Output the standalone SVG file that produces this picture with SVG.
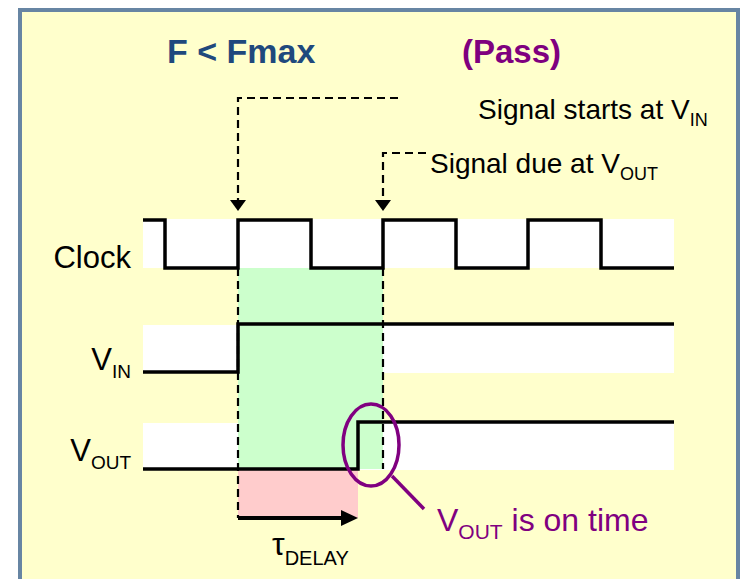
<svg xmlns="http://www.w3.org/2000/svg" width="742" height="579" viewBox="0 0 742 579">
  <style>
    .lbl { font-family: "Liberation Sans", Arial, sans-serif; fill: #000; }
    .sig { fill: none; stroke: #000; stroke-width: 3.5; stroke-linejoin: miter; }
    .dash { fill: none; stroke: #000; stroke-width: 2.2; stroke-dasharray: 8 5; }
    .band { fill: #FFFFFF; }
    .purple { fill: #800080; }
  </style>
  <defs>
    <marker id="down" viewBox="0 0 11 16" refX="11" refY="8" markerWidth="11" markerHeight="16" markerUnits="userSpaceOnUse" orient="auto">
      <polygon points="0,0 11,8 0,16" fill="#000"/>
    </marker>
  </defs>

  <!-- background / frame -->
  <rect x="0" y="0" width="742" height="579" fill="#FFFFFF"/>
  <rect x="20" y="10" width="718" height="600" fill="#FFFFCC" stroke="#6785A3" stroke-width="4"/>

  <!-- title -->
  <g id="title">
    <text x="167" y="63" font-family="Liberation Sans, Arial, sans-serif" font-weight="bold" font-size="34" fill="#1F497D">F &lt; Fmax</text>
    <text x="462" y="63" font-family="Liberation Sans, Arial, sans-serif" font-weight="bold" font-size="33" fill="#7F007F">(Pass)</text>
  </g>

  <!-- white signal bands -->
  <g id="bands">
    <rect class="band" x="143" y="219" width="531" height="49"/>
    <rect class="band" x="143" y="325" width="531" height="48"/>
    <rect class="band" x="143" y="423" width="531" height="47"/>
  </g>

  <!-- highlight regions -->
  <g id="regions">
    <rect x="238" y="268" width="145" height="201" fill="#CCFFCC"/>
    <rect x="238" y="470" width="120" height="48" fill="#FFCCCC"/>
  </g>

  <!-- signal labels -->
  <g id="labels">
    <text class="lbl" x="131" y="268" font-size="31" text-anchor="end">Clock</text>
    <text class="lbl" x="131" y="370" font-size="31" text-anchor="end">V<tspan font-size="19" dy="8">IN</tspan></text>
    <text class="lbl" x="131" y="461" font-size="31" text-anchor="end">V<tspan font-size="19" dy="8">OUT</tspan></text>
  </g>

  <!-- waveforms -->
  <g id="clock">
    <polyline class="sig" points="143,220 165,220 165,268 238,268 238,220 311,220 311,268 383,268 383,220 456,220 456,268 528,268 528,220 601,220 601,268 674,268"/>
  </g>
  <g id="vin">
    <polyline class="sig" points="143,372 238,372 238,324 674,324"/>
  </g>
  <g id="vout">
    <polyline class="sig" points="143,469 358,469 358,422 674,422"/>
  </g>

  <!-- connectors -->
  <g id="connectors">
    <polyline class="dash" points="398,98 238,98 238,211" marker-end="url(#down)"/>
    <polyline class="dash" points="426,153 383,153 383,211" marker-end="url(#down)"/>
    <line class="dash" x1="238" y1="268" x2="238" y2="518"/>
    <line class="dash" x1="383" y1="268" x2="383" y2="469"/>
    <line x1="238" y1="518" x2="343" y2="518" stroke="#000" stroke-width="4"/>
    <polygon points="341,510 358,518 341,526" fill="#000"/>
  </g>

  <!-- annotations -->
  <g id="annotation-start">
    <text class="lbl" x="478" y="119" font-size="28">Signal starts at V<tspan font-size="18" dy="7">IN</tspan></text>
  </g>
  <g id="annotation-due">
    <text class="lbl" x="430" y="173" font-size="28">Signal due at V<tspan font-size="18" dy="7">OUT</tspan></text>
  </g>
  <g id="tau">
    <text class="lbl" x="272" y="555" font-size="32">τ<tspan font-size="20" dy="10">DELAY</tspan></text>
  </g>
  <g id="on-time">
    <ellipse cx="371" cy="445" rx="28" ry="41" fill="none" stroke="#800080" stroke-width="3.5"/>
    <line x1="392" y1="476" x2="424" y2="509" stroke="#800080" stroke-width="3.5"/>
    <text class="purple" x="437" y="531" font-family="Liberation Sans, Arial, sans-serif" font-size="32">V<tspan font-size="21" dy="8">OUT</tspan><tspan dy="-8"> is on time</tspan></text>
  </g>
</svg>
